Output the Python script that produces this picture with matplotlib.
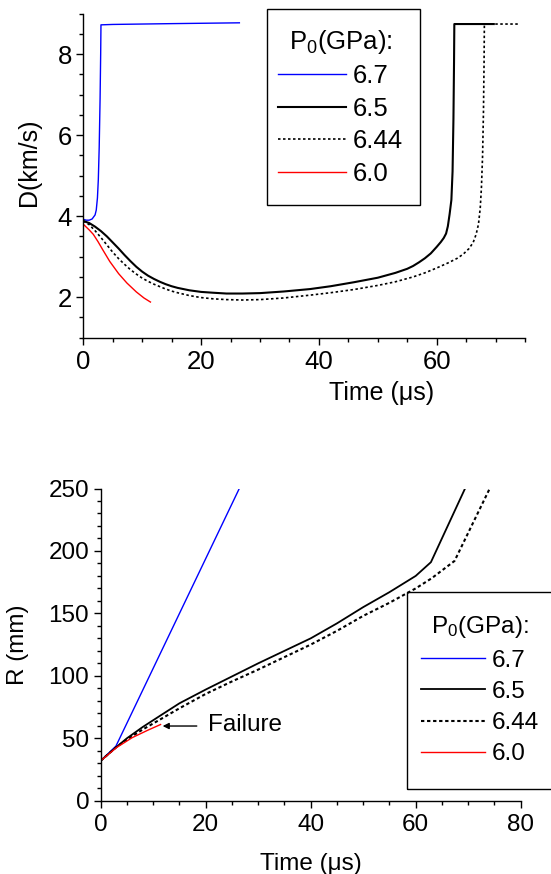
import matplotlib
matplotlib.use("Agg")
import matplotlib.pyplot as plt
from matplotlib.patches import Rectangle

plt.rcParams['font.family'] = ['Liberation Sans', 'DejaVu Sans']
plt.rcParams['mathtext.fontset'] = 'custom'
plt.rcParams['mathtext.rm'] = 'Liberation Sans'
plt.rcParams['mathtext.it'] = 'Liberation Sans:italic'

# ---------------- data: detonation velocity D(t) ----------------
labels = ["6.7", "6.5", "6.44", "6.0"]

t_d_67 = [0, 0.5, 1.0, 1.5, 2.0, 2.2, 2.4, 2.55, 2.7, 2.85, 2.95, 3.0, 5, 15, 26.5]
d_67 = [3.92, 3.90, 3.90, 3.93, 4.03, 4.15, 4.45, 4.9, 5.7, 6.9, 8.0, 8.72, 8.73, 8.75, 8.77]

t_d_65 = [0, 1, 2, 3, 4, 5, 6, 7, 8, 9, 10, 11, 12, 13, 14, 15, 16, 18, 20, 22,
          24.3, 27, 30, 34, 38.5, 42, 46, 50, 53, 55, 56, 57, 58, 59, 60, 60.7,
          61.2, 61.6, 61.9, 62.2, 62.5, 62.7, 62.85, 62.95, 63.0, 69.7]
d_65 = [3.88, 3.83, 3.74, 3.63, 3.50, 3.35, 3.20, 3.04, 2.89, 2.75, 2.63, 2.53,
        2.45, 2.38, 2.32, 2.27, 2.23, 2.17, 2.13, 2.11, 2.09, 2.09, 2.10, 2.14,
        2.20, 2.27, 2.37, 2.48, 2.60, 2.70, 2.77, 2.86, 2.96, 3.08, 3.24, 3.36,
        3.46, 3.57, 3.75, 4.05, 4.4, 5.1, 6.4, 7.8, 8.74, 8.74]

t_d_644 = [0, 1, 2, 3, 4, 5, 6, 7, 8, 9, 10, 11, 12, 13, 14, 15, 16, 18, 20, 22,
           24.3, 27, 30, 34, 38.5, 42, 46, 50, 53, 56, 58, 60, 62, 63.5, 64.5,
           65.5, 66.2, 66.7, 67.1, 67.4, 67.6, 67.8, 67.95, 68.05, 68.1, 74.1]
d_644 = [3.88, 3.79, 3.64, 3.47, 3.29, 3.11, 2.95, 2.81, 2.68, 2.57, 2.47, 2.39,
         2.32, 2.26, 2.20, 2.15, 2.11, 2.04, 1.99, 1.96, 1.94, 1.93, 1.94, 1.98,
         2.05, 2.11, 2.19, 2.29, 2.38, 2.50, 2.60, 2.72, 2.85, 2.96, 3.06, 3.20,
         3.35, 3.55, 3.80, 4.2, 4.7, 5.5, 6.6, 7.8, 8.74, 8.74]

t_d_60 = [0, 0.5, 1.0, 1.7, 2.5, 3.3, 4.5, 6, 7.4, 9, 10.3, 11.4]
d_60 = [3.80, 3.73, 3.66, 3.55, 3.37, 3.17, 2.88, 2.58, 2.35, 2.13, 1.98, 1.88]

# ---------------- data: radius R(t) ----------------
t_r_67 = [0, 2.9, 26.4]
r_67 = [32, 43.7, 250]

t_r_65 = [0, 3, 5, 8, 11.3, 15, 20, 25, 30, 35, 40, 45, 50, 55, 60, 62.9, 69.4]
r_65 = [32, 43, 50, 59, 68, 78, 89, 99.5, 110, 120, 130, 142, 155, 167, 180, 191, 250]

t_r_644 = [0, 3, 5, 8, 11.3, 15, 20, 25, 30, 35, 40, 45, 50, 55, 60, 63, 67.4, 74.1]
r_644 = [32, 43, 49, 57, 65, 74, 85.5, 95.5, 105, 115, 125, 136, 148, 158.5, 170, 178, 192, 250]

t_r_60 = [0, 3, 6, 9, 11.4]
r_60 = [32, 42.5, 50.5, 56.5, 61]

W, H = 551, 874
fig = plt.figure(figsize=(W / 100, H / 100), dpi=100)


def px_axes(l, r, b, t):
    return fig.add_axes([l / W, 1 - b / H, (r - l) / W, (b - t) / H])


def style(ax, fs, xpad, ypad):
    for s in ("top", "right"):
        ax.spines[s].set_visible(False)
    for s in ("left", "bottom"):
        ax.spines[s].set_linewidth(1.0)
    ax.tick_params(which="major", direction="out", length=4.8, width=1.0, labelsize=fs)
    ax.tick_params(which="minor", direction="out", length=2.6, width=1.0)
    ax.tick_params(axis="x", which="major", pad=xpad)
    ax.tick_params(axis="y", which="major", pad=ypad)


# ---------------- top panel ----------------
ax1 = px_axes(83.3, 525, 337.7, 13.5)
ax1.plot(t_d_67, d_67, color="#0000ff", lw=1.0, label=labels[0])
ax1.plot(t_d_65, d_65, color="black", lw=1.5, label=labels[1])
ax1.plot(t_d_644, d_644, color="black", lw=1.2, dashes=(1.5, 1.5), label=labels[2])
ax1.plot(t_d_60, d_60, color="#ff0000", lw=1.0, label=labels[3])
ax1.set_xlim(0, 75)
ax1.set_ylim(1, 9)
ax1.set_xticks([0, 20, 40, 60])
ax1.set_xticks(range(0, 76, 5), minor=True)
ax1.set_yticks([2, 4, 6, 8])
ax1.set_yticks([1 + 0.5 * i for i in range(17)], minor=True)
style(ax1, 18.5, 4.0, 3.5)
ax1.set_xlabel("Time (\u03bcs)", fontsize=18)
ax1.xaxis.set_label_coords((382 - 83.3) / 441.7, -0.133)
ax1.set_ylabel("D(km/s)", fontsize=18)
ax1.yaxis.set_label_coords(-0.095, 0.54)

leg1 = ax1.legend(title="P$_0$(GPa):", loc="upper left",
                  bbox_to_anchor=(278.3 / W, 1 - 28 / H), bbox_transform=fig.transFigure,
                  frameon=False, fontsize=18.5, title_fontsize=18.5,
                  borderpad=0, borderaxespad=0, handlelength=2.63, handletextpad=0.26,
                  labelspacing=0.33)
leg1._legend_box.sep = 6
fig.add_artist(Rectangle((266.7 / W, 1 - 205.3 / H), (420 - 266.7) / W, (205.3 - 9.3) / H,
                         transform=fig.transFigure, fill=False, lw=1.0, ec="black"))

# ---------------- bottom panel ----------------
ax2 = px_axes(100.7, 520.7, 800.7, 488.5)
ax2.plot(t_r_67, r_67, color="#0000ff", lw=1.0, label=labels[0])
ax2.plot(t_r_65, r_65, color="black", lw=1.3, label=labels[1])
ax2.plot(t_r_644, r_644, color="black", lw=1.5, dashes=(1.6, 1.3), label=labels[2])
ax2.plot(t_r_60, r_60, color="#ff0000", lw=1.0, label=labels[3])
ax2.set_xlim(0, 80)
ax2.set_ylim(0, 250)
ax2.set_xticks([0, 20, 40, 60, 80])
ax2.set_xticks(range(0, 81, 5), minor=True)
ax2.set_yticks([0, 50, 100, 150, 200, 250])
ax2.set_yticks(range(0, 251, 10), minor=True)
style(ax2, 17.5, 5.0, 3.5)
ax2.set_xlabel("Time (\u03bcs)", fontsize=17.5)
ax2.xaxis.set_label_coords(0.5, -0.168)
ax2.set_ylabel("R (mm)", fontsize=17.5)
ax2.yaxis.set_label_coords(-0.17, 0.5)

ax2.annotate("", xy=(11.8, 59.8), xytext=(18.3, 59.8),
             arrowprops=dict(arrowstyle="-|>", color="black", lw=1.0,
                             mutation_scale=9, shrinkA=0, shrinkB=0))
ax2.text(20.5, 60.5, "Failure", fontsize=17.5, va="center", ha="left")

leg2 = ax2.legend(title="P$_0$(GPa):", loc="upper left",
                  bbox_to_anchor=(420.7 / W, 1 - 614 / H), bbox_transform=fig.transFigure,
                  frameon=False, fontsize=17.5, title_fontsize=17.5,
                  borderpad=0, borderaxespad=0, handlelength=2.65, handletextpad=0.28,
                  labelspacing=0.38)
leg2._legend_box.sep = 7
fig.add_artist(Rectangle((406.7 / W, 1 - 789 / H), 200 / W, (789 - 591.7) / H,
                         transform=fig.transFigure, fill=False, lw=1.0, ec="black"))

fig.savefig("out.png", dpi=100)
